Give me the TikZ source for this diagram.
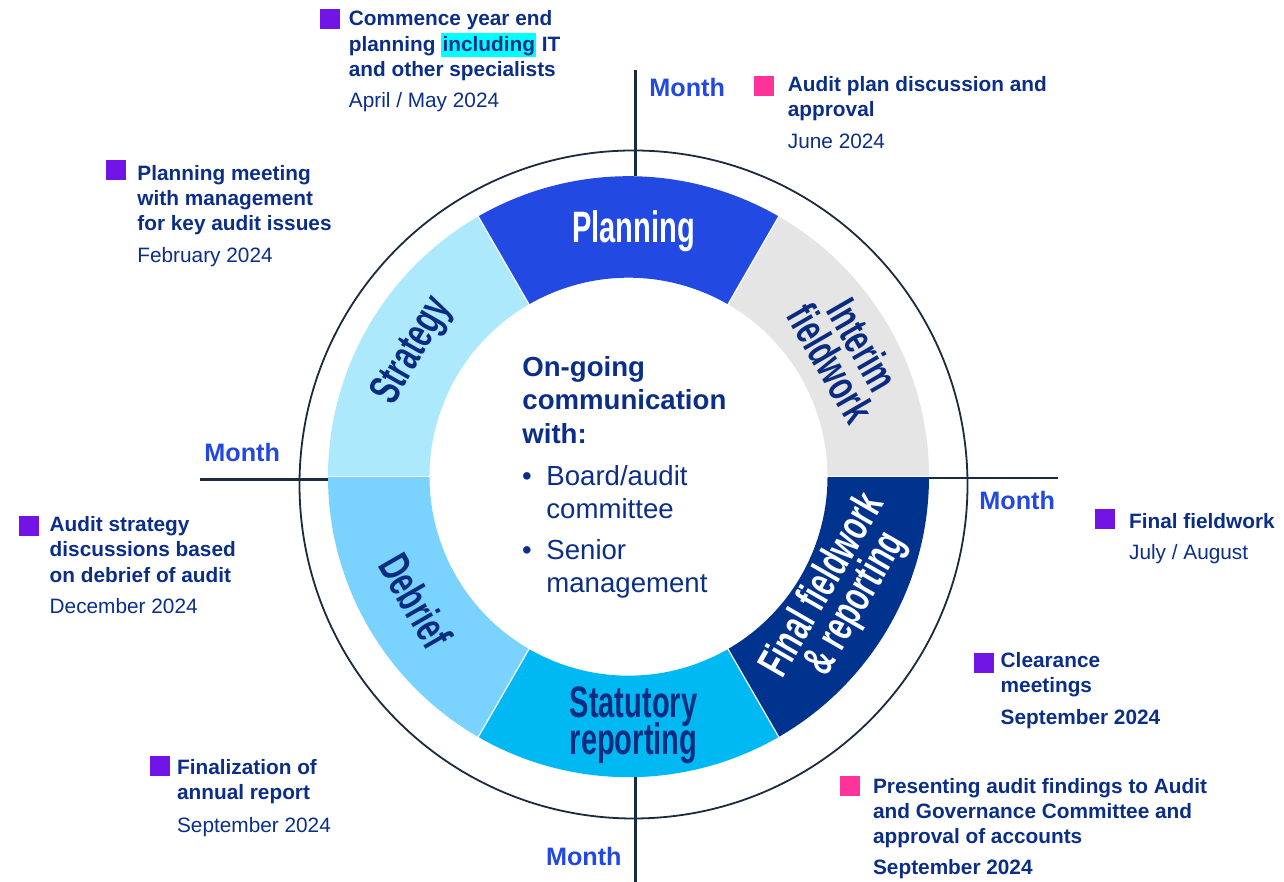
\documentclass[tikz,border=0pt]{standalone}
\usepackage{fontspec}
\setmainfont{Liberation Sans}
\usetikzlibrary{positioning}

\definecolor{navyText}{HTML}{0B2E88}
\definecolor{segText}{HTML}{0A2C80}
\definecolor{monthBlue}{HTML}{2348E2}
\definecolor{planningBlue}{HTML}{2249E1}
\definecolor{interimGrey}{HTML}{E5E5E5}
\definecolor{finalNavy}{HTML}{00338D}
\definecolor{statutoryCyan}{HTML}{00B9F2}
\definecolor{debriefBlue}{HTML}{7AD2FE}
\definecolor{strategyBlue}{HTML}{ADE9FD}
\definecolor{purpleMark}{HTML}{7214E6}
\definecolor{pinkMark}{HTML}{FF3399}
\definecolor{hlCyan}{HTML}{00FFFF}
\definecolor{axisDark}{HTML}{1A2B3F}

\newcommand{\hlword}[1]{{\setlength{\fboxsep}{0pt}\colorbox{hlCyan}{\rule[-3pt]{0pt}{12pt}\kern0.6pt#1\kern0.6pt}}}

\begin{document}
\lineskiplimit=-20pt
\begin{tikzpicture}[x=0.5pt, y=0.5pt,
    itemtext/.style={anchor=base west, inner sep=0pt, align=left, text=navyText,
      font=\bfseries\fontsize{10.4}{12.7}\selectfont},
    datetext/.style={anchor=base west, inner sep=0pt, text=navyText,
      font=\fontsize{10.4}{12.7}\selectfont},
    datebold/.style={datetext, font=\bfseries\fontsize{10.4}{12.7}\selectfont},
    marker/.style={fill=#1, inner sep=0pt, minimum size=10pt},
    monthlabel/.style={anchor=base west, inner sep=0pt, text=monthBlue,
      font=\bfseries\fontsize{12.6}{15}\selectfont},
    seglabel/.style={inner sep=0pt, align=center, text=segText, xscale=0.66,
      font=\bfseries\fontsize{22}{18.5}\selectfont},
    centerhead/.style={anchor=base west, inner sep=0pt, align=left, text=navyText,
      font=\bfseries\fontsize{13.8}{16.65}\selectfont},
    centerbody/.style={anchor=base west, inner sep=0pt, align=left, text=navyText,
      font=\fontsize{13.8}{16.4}\selectfont},
    axisline/.style={draw=axisDark, line width=1.1pt},
    rimline/.style={draw=axisDark, line width=0.9pt}]

    \fill[white] (0,0) rectangle (1284,882);
    \useasboundingbox (0,0) rectangle (1284,882);

    % centres of the ring and of the rim
    \coordinate (ringc) at (628.5,405.3);
    \coordinate (rimc) at (633.5,397.5);

    \draw[rimline] (rimc) circle[radius=167pt];

    % the six phases
    \foreach \from/\to/\shade in {0/60/interimGrey, 60/120/planningBlue, 120/180/strategyBlue,
        180/240/debriefBlue, 240/300/statutoryCyan, 300/360/finalNavy}
        \fill[\shade] ([shift={(ringc)}]\from:150.25pt) arc[start angle=\from, end angle=\to, radius=150.25pt]
            -- ([shift={(ringc)}]\to:99.5pt) arc[start angle=\to, end angle=\from, radius=99.5pt] -- cycle;
    \foreach \ang in {0,60,...,300}
        \draw[white, line width=0.6pt] ([shift={(ringc)}]\ang:99pt) -- ([shift={(ringc)}]\ang:150.75pt);

    % month axes
    \coordinate (northEnd) at (635.5,812);
    \coordinate (northRing) at (635.5,705.5);
    \coordinate (southRing) at (635.5,105);
    \coordinate (southEnd) at (635.5,0);
    \coordinate (westEnd) at (200,402.5);
    \coordinate (westRing) at (328,402.5);
    \coordinate (eastRing) at (929,404);
    \coordinate (eastEnd) at (1058,404);
    \draw[axisline] (northEnd) -- (northRing);
    \draw[axisline] (southRing) -- (southEnd);
    \draw[axisline] (westEnd) -- (westRing);
    \draw[axisline] (eastRing) -- (eastEnd);

    \node[monthlabel] (monthN) at (649,785.3) {Month};
    \node[monthlabel] (monthW) at (204,420.3) {Month};
    \node[monthlabel] (monthE) at (979,372) {Month};
    \node[monthlabel] (monthS) at (545.6,16) {Month};

    % phase names
    \node[seglabel, anchor=base, text=white] (planningLbl) at (633.5,639) {Planning};
    \node[rotate=-60, seglabel] (interimLbl) at (847,528) {Interim\\fieldwork};
    \node[rotate=60, seglabel, text=white] (finalLbl) at (840,287) {Final fieldwork\\\& reporting};
    \node[seglabel] (statutoryLbl) at (633.5,157) {Statutory\\reporting};
    \node[rotate=-60, seglabel] (debriefLbl) at (416,281) {Debrief};
    \node[rotate=60, seglabel] (strategyLbl) at (413,531) {Strategy};

    % centre text (multi-line nodes sit on the baseline of their last line)
    \node[centerhead] (ongoing) at (522,438.7) {On-going\\communication\\with:};
    \node[centerbody] (boardDot) at (521.6,396) {•};
    \node[centerbody] (board) at (546,363.2) {Board/audit\\committee};
    \node[centerbody] (seniorDot) at (521.6,322) {•};
    \node[centerbody] (senior) at (546,289.2) {Senior\\management};

    % events round the year
    \node[marker=purpleMark] (commenceBox) at (330.2,863.3) {};
    \node[itemtext] (commence) at (348.5,805.5) {Commence year end\\planning \hlword{including} IT\\and other specialists};
    \node[datetext] (commenceDate) at (348.5,774) {April / May 2024};

    \node[marker=purpleMark] (meetingBox) at (116,712) {};
    \node[itemtext] (meeting) at (137,651) {Planning meeting\\with management\\for key audit issues};
    \node[datetext] (meetingDate) at (137,619) {February 2024};

    \node[marker=pinkMark] (planBox) at (763.8,796) {};
    \node[itemtext] (plan) at (787.5,765.3) {Audit plan discussion and\\approval};
    \node[datetext] (planDate) at (787.5,733) {June 2024};

    \node[marker=purpleMark] (fieldBox) at (1104.5,363) {};
    \node[itemtext] (field) at (1128.7,353) {Final fieldwork};
    \node[datetext] (fieldDate) at (1128.7,322) {July / August};

    \node[marker=purpleMark] (clearBox) at (984,218.8) {};
    \node[itemtext] (clear) at (1000.3,189) {Clearance\\meetings};
    \node[datebold] (clearDate) at (1000.3,157) {September 2024};

    \node[marker=pinkMark] (presentBox) at (850,95.7) {};
    \node[itemtext] (present) at (872.7,38) {Presenting audit findings to Audit\\and Governance Committee and\\approval of accounts};
    \node[datebold] (presentDate) at (872.7,7) {September 2024};

    \node[marker=purpleMark] (finalBox) at (160,116) {};
    \node[itemtext] (final) at (176.7,82) {Finalization of\\annual report};
    \node[datetext] (finalDate) at (176.7,49.7) {September 2024};

    \node[marker=purpleMark] (debriefBox) at (29,355.7) {};
    \node[itemtext] (debrief) at (49.3,299.7) {Audit strategy\\discussions based\\on debrief of audit};
    \node[datetext] (debriefDate) at (49.3,268.7) {December 2024};
\end{tikzpicture}
\end{document}
